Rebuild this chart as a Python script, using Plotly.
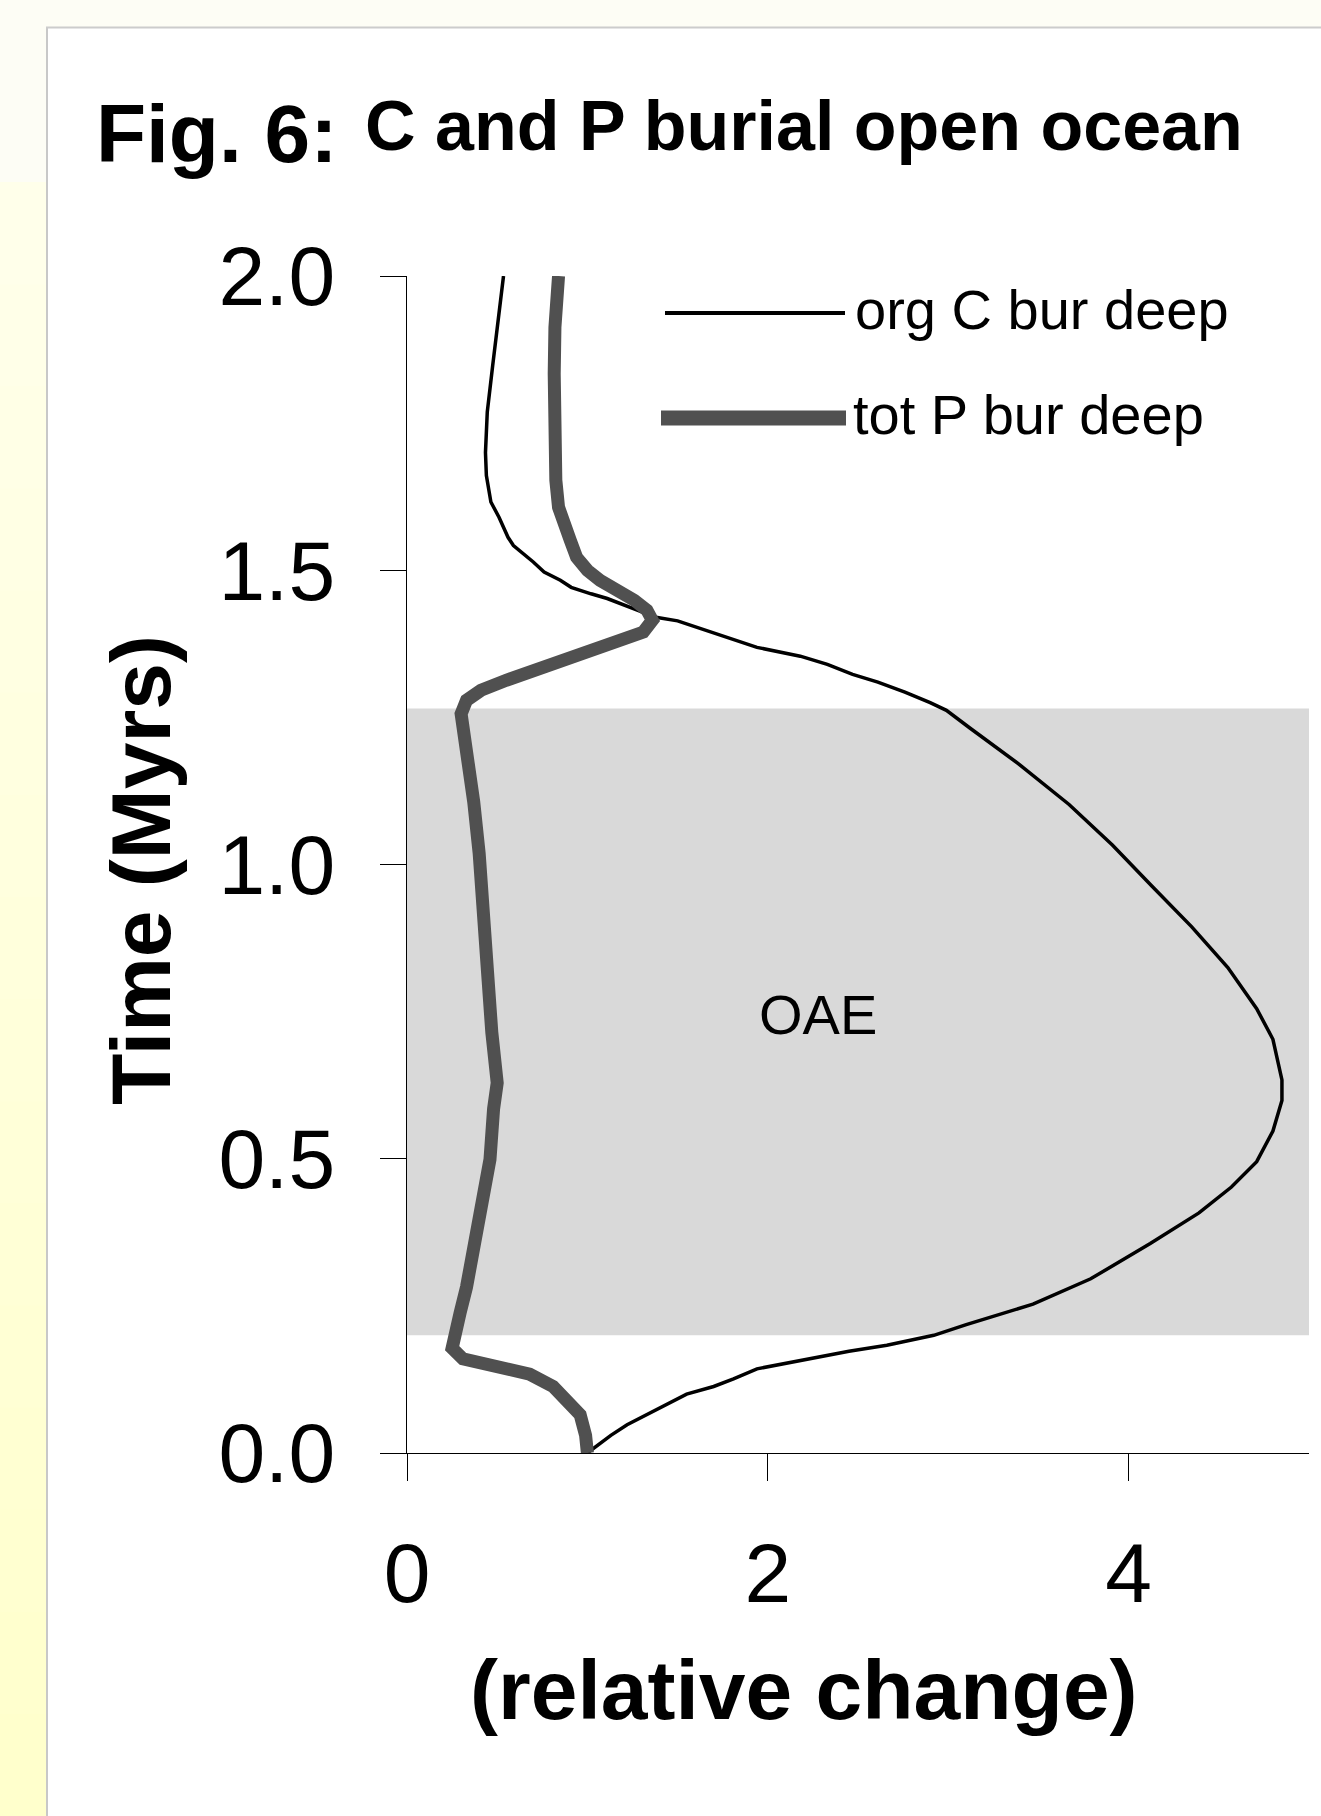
import plotly.graph_objects as go

# ---------------- data ----------------
# org C burial (deep), relative change vs time (Myrs)
time_c = [0.000, 0.009, 0.030, 0.048, 0.065, 0.082, 0.100, 0.113, 0.126, 0.143,
          0.156, 0.173, 0.183, 0.200, 0.218, 0.253, 0.296, 0.356, 0.408, 0.452,
          0.495, 0.547, 0.599, 0.634, 0.703, 0.755, 0.825, 0.894, 0.963, 1.033,
          1.102, 1.171, 1.232, 1.262, 1.275, 1.293, 1.310, 1.323, 1.340, 1.354,
          1.369, 1.384, 1.398, 1.414, 1.420, 1.435, 1.452, 1.460, 1.471, 1.483,
          1.497, 1.514, 1.542, 1.556, 1.590, 1.616, 1.661, 1.700, 1.769, 1.848,
          1.908, 1.961, 2.000]
org_c = [1.00, 1.04, 1.13, 1.22, 1.33, 1.44, 1.55, 1.70, 1.81, 1.94,
         2.17, 2.45, 2.66, 2.92, 3.10, 3.47, 3.79, 4.12, 4.39, 4.57,
         4.71, 4.80, 4.85, 4.85, 4.80, 4.71, 4.55, 4.35, 4.13, 3.91,
         3.67, 3.39, 3.12, 2.99, 2.90, 2.76, 2.61, 2.47, 2.33, 2.18,
         1.94, 1.79, 1.66, 1.50, 1.38, 1.25, 1.11, 1.02, 0.91, 0.85,
         0.76, 0.70, 0.59, 0.56, 0.51, 0.465, 0.44, 0.435, 0.445, 0.475,
         0.50, 0.52, 0.535]

# total P burial (deep), relative change vs time (Myrs)
time_p = [0.000, 0.030, 0.065, 0.091, 0.113, 0.134, 0.143, 0.152, 0.160, 0.178,
          0.195, 0.239, 0.282, 0.343, 0.412, 0.499, 0.585, 0.629, 0.715, 0.828,
          0.932, 1.019, 1.106, 1.192, 1.217, 1.256, 1.279, 1.296, 1.313, 1.330,
          1.347, 1.364, 1.381, 1.395, 1.415, 1.432, 1.449, 1.466, 1.483, 1.500,
          1.522, 1.551, 1.579, 1.607, 1.653, 1.721, 1.834, 1.913, 2.000]
tot_p = [1.00, 0.99, 0.96, 0.89, 0.81, 0.68, 0.55, 0.41, 0.31, 0.25,
         0.26, 0.295, 0.33, 0.37, 0.42, 0.46, 0.48, 0.50, 0.47, 0.45,
         0.42, 0.40, 0.37, 0.34, 0.32, 0.30, 0.33, 0.41, 0.55, 0.70,
         0.87, 1.05, 1.20, 1.31, 1.36, 1.33, 1.26, 1.16, 1.07, 1.00,
         0.94, 0.905, 0.87, 0.84, 0.825, 0.816, 0.816, 0.82, 0.84]

oae_period = [0.20, 1.265]          # shaded OAE interval (Myrs)
x_range = [0, 5]
y_range = [0, 2]
x_tickvals = [0, 2, 4]
y_tickvals = [0.0, 0.5, 1.0, 1.5, 2.0]
y_ticktext = ["%.1f" % v for v in y_tickvals]
series_names = ["org C bur deep", "tot P bur deep"]

# ---------------- geometry ----------------
W, H = 1321, 1816
L, R, T, B = 407, 1309, 276, 1453
FONT = "Liberation Sans, Arial, sans-serif"


def fx(X):
    return (X - L) / (R - L)


def fy(Y):
    return (B - Y) / (B - T)


C_COLOR = "#000000"
P_COLOR = "#505050"

fig = go.Figure()
fig.add_trace(go.Scatter(x=org_c, y=time_c, mode="lines", name=series_names[0],
                         line=dict(color=C_COLOR, width=3.5), showlegend=False,
                         hoverinfo="skip"))
fig.add_trace(go.Scatter(x=tot_p, y=time_p, mode="lines", name=series_names[1],
                         line=dict(color=P_COLOR, width=13), showlegend=False,
                         hoverinfo="skip"))

shapes = []
# page background pieces
shapes.append(dict(type="rect", xref="paper", yref="paper", x0=fx(0), x1=fx(W),
                   y0=fy(0), y1=fy(27), fillcolor="#fdfdf5", line=dict(width=0),
                   layer="below"))
shapes.append(dict(type="rect", xref="paper", yref="paper", x0=fx(0), x1=fx(46),
                   y0=fy(0), y1=fy(182), fillcolor="#fdfdf5", line=dict(width=0),
                   layer="below"))
nb = 16
top, bot = 182, H
c0 = (255, 255, 234)
c1 = (255, 255, 204)
for i in range(nb):
    ya = top + (bot - top) * i / nb
    yb = top + (bot - top) * (i + 1) / nb
    f = i / (nb - 1)
    col = "rgb(%d,%d,%d)" % tuple(round(c0[k] + (c1[k] - c0[k]) * f) for k in range(3))
    shapes.append(dict(type="rect", xref="paper", yref="paper", x0=fx(0), x1=fx(46),
                       y0=fy(ya), y1=fy(yb + 1), fillcolor=col, line=dict(width=0),
                       layer="below"))
shapes.append(dict(type="line", xref="paper", yref="paper", x0=fx(47), x1=fx(47),
                   y0=fy(27), y1=fy(H), line=dict(color="#c8c8c8", width=2),
                   layer="below"))
shapes.append(dict(type="line", xref="paper", yref="paper", x0=fx(46), x1=fx(W),
                   y0=fy(27.5), y1=fy(27.5), line=dict(color="#cccccc", width=2),
                   layer="below"))
# OAE shaded band
shapes.append(dict(type="rect", xref="x", yref="y", x0=x_range[0], x1=x_range[1],
                   y0=oae_period[0], y1=oae_period[1], fillcolor="#d9d9d9",
                   line=dict(width=0), layer="below"))
# legend samples
shapes.append(dict(type="line", xref="paper", yref="paper", x0=fx(665), x1=fx(845),
                   y0=fy(313), y1=fy(313), line=dict(color=C_COLOR, width=4)))
shapes.append(dict(type="line", xref="paper", yref="paper", x0=fx(661), x1=fx(846),
                   y0=fy(418), y1=fy(418), line=dict(color=P_COLOR, width=15)))

annotations = [
    dict(text="Fig. 6:", xref="paper", yref="paper", x=fx(94), y=fy(133),
         xanchor="left", yanchor="middle", showarrow=False,
         font=dict(family=FONT, size=82, color="black", weight="bold")),
    dict(text="C and P burial open ocean", xref="paper", yref="paper", x=fx(363), y=fy(126),
         xanchor="left", yanchor="middle", showarrow=False,
         font=dict(family=FONT, size=70, color="black", weight="bold")),
    dict(text="Time (Myrs)", xref="paper", yref="paper", x=fx(141), y=fy(870),
         xanchor="center", yanchor="middle", textangle=-90, showarrow=False,
         font=dict(family=FONT, size=84, color="black", weight="bold")),
    dict(text="(relative change)", xref="paper", yref="paper", x=fx(804), y=fy(1690),
         xanchor="center", yanchor="middle", showarrow=False,
         font=dict(family=FONT, size=84, color="black", weight="bold")),
    dict(text=series_names[0], xref="paper", yref="paper", x=fx(853), y=fy(309),
         xanchor="left", yanchor="middle", showarrow=False,
         font=dict(family=FONT, size=56, color="black")),
    dict(text=series_names[1], xref="paper", yref="paper", x=fx(851), y=fy(414),
         xanchor="left", yanchor="middle", showarrow=False,
         font=dict(family=FONT, size=56, color="black")),
    dict(text="OAE", xref="paper", yref="paper", x=fx(818), y=fy(1014),
         xanchor="center", yanchor="middle", showarrow=False,
         font=dict(family=FONT, size=56, color="black")),
]

fig.update_layout(
    width=W, height=H,
    margin=dict(l=L, r=W - R, t=T, b=H - B, pad=0),
    paper_bgcolor="white", plot_bgcolor="rgba(0,0,0,0)",
    showlegend=False,
    shapes=shapes, annotations=annotations,
    font=dict(family=FONT, color="black"),
    xaxis=dict(range=x_range, tickvals=x_tickvals, ticks="outside", ticklen=27,
               tickwidth=1, tickcolor="black", showline=True, linecolor="black",
               linewidth=1, showgrid=False, zeroline=False,
               tickfont=dict(family=FONT, size=84, color="black"),
               ticklabelstandoff=20),
    yaxis=dict(range=y_range, tickvals=y_tickvals, ticktext=y_ticktext, ticks="outside",
               ticklen=26, tickwidth=1, tickcolor="black", showline=True,
               linecolor="black", linewidth=1, showgrid=False, zeroline=False,
               tickfont=dict(family=FONT, size=84, color="black"),
               ticklabelstandoff=28),
)

fig.write_html("out.html", config={"displayModeBar": False},
               post_script="document.body.style.margin='0px';document.body.style.overflow='hidden';")
